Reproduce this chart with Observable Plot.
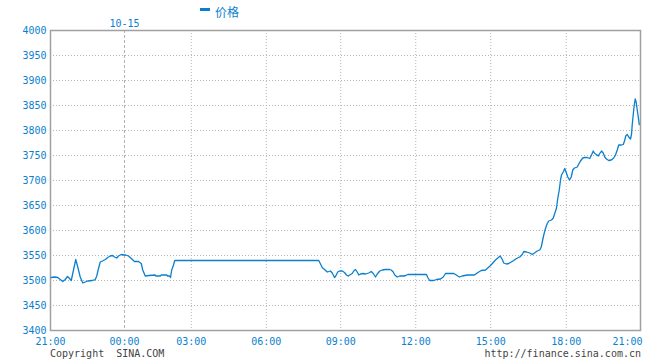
<!DOCTYPE html>
<html>
<head>
<meta charset="utf-8">
<script src="https://cdn.jsdelivr.net/npm/d3@7"></script>
<script src="https://cdn.jsdelivr.net/npm/@observablehq/plot@0.6"></script>
<style>
  html, body { margin: 0; padding: 0; background: #fff; }
  #wrap { position: relative; width: 660px; height: 360px; overflow: hidden; }
  #chart { position: absolute; left: 0; top: 0; }
  .ov { position: absolute; white-space: pre; line-height: 1; }
</style>
</head>
<body>
<div id="wrap">
  <div id="chart"></div>
  <div class="ov" style="left:200px;top:8px;width:10px;height:3px;background:#0a7fcf;"></div>
  <div class="ov" id="legend" style="left:215px;top:3px;font:12px 'Noto Sans CJK SC', sans-serif;color:#0a7fcf;"></div>
  <div class="ov" id="copy" style="left:50px;top:348px;font:10px 'DejaVu Sans Mono', monospace;color:#444;"></div>
  <div class="ov" id="url" style="right:19px;top:348px;font:10px 'DejaVu Sans Mono', monospace;color:#444;"></div>
</div>
<script>
// ---- data (position on the chart's time axis, in hours from 21:00) ----
const seriesName = "价格";
const dateLabel = "10-15";
const pos = [
  0.03,0.16,0.29,0.39,0.49,0.59,0.68,0.76,0.83,0.92,1.01,1.09,1.19,1.29,1.39,1.49,1.65,1.79,1.85,1.92,
  1.99,2.08,2.19,2.29,2.39,2.48,2.56,2.65,2.72,2.83,2.92,3.01,3.12,3.23,3.36,3.52,3.63,3.69,3.79,3.95,
  4.19,4.21,4.39,4.43,4.65,4.68,4.76,4.80,4.85,4.92,4.97,
  10.73,10.80,10.87,10.96,11.07,11.20,11.27,11.36,11.41,11.49,11.57,11.67,11.76,11.84,11.91,12.00,
  12.07,12.13,12.20,12.27,12.33,12.40,12.51,12.60,12.73,12.83,12.91,13.00,13.07,13.17,13.27,13.40,13.57,13.63,
  13.71,13.77,13.87,13.97,14.13,14.21,14.29,15.04,15.09,15.17,15.33,15.44,15.60,15.71,15.80,16.00,
  16.13,16.20,16.29,16.36,16.47,16.67,16.96,17.04,17.13,17.23,17.40,17.49,17.60,17.71,17.80,17.89,17.99,
  18.07,18.13,18.24,18.33,18.43,18.53,18.64,18.77,18.87,18.93,19.04,19.17,19.27,19.36,19.47,19.57,
  19.63,19.67,19.73,19.80,19.87,19.93,20.04,20.11,20.17,20.24,20.29,20.35,20.40,20.44,20.51,20.57,20.63,
  20.69,20.76,20.83,20.89,20.96,21.07,21.13,21.20,21.29,21.37,21.47,21.57,21.64,21.71,21.77,21.84,21.91,
  21.97,22.04,22.11,22.17,22.24,22.33,22.43,22.53,22.60,22.67,22.73,22.84,22.91,22.96,23.01,23.07,23.13,
  23.20,23.24,23.27,23.31,23.35,23.39,23.43,23.47,23.51,23.55
];
const price = [
  3506,3507,3506,3502,3498,3502,3508,3504,3500,3521,3542,3527,3507,3495,3497,3499,3500,3502,3509,3524,
  3537,3539,3542,3546,3549,3550,3547,3545,3549,3552,3551,3551,3549,3544,3538,3538,3534,3521,3509,3510,
  3511,3509,3509,3511,3511,3509,3509,3506,3521,3531,3540,
  3540,3533,3526,3522,3517,3519,3515,3506,3509,3517,3519,3519,3516,3511,3509,3512,
  3514,3519,3522,3517,3511,3513,3514,3513,3515,3518,3514,3507,3513,3519,3521,3522,3522,3521,
  3517,3511,3507,3509,3509,3510,3512,3512,3506,3500,3500,3502,3503,3507,3514,3514,
  3514,3512,3509,3507,3509,3511,3511,3514,3517,3520,3521,3525,3530,3536,3541,3545,3549,
  3542,3535,3533,3534,3537,3540,3544,3547,3552,3558,3557,3555,3552,3555,3559,3561,
  3567,3577,3591,3604,3614,3619,3621,3625,3634,3645,3664,3681,3701,3711,3717,3724,3716,
  3707,3701,3707,3721,3725,3727,3733,3739,3745,3746,3746,3744,3751,3759,3754,3752,3749,
  3754,3759,3755,3747,3743,3740,3741,3745,3751,3761,3771,3771,3772,3779,3789,3792,3787,
  3783,3792,3812,3832,3851,3863,3856,3841,3827,3812
];
const xTickPos = [0, 2.96, 5.63, 8.63, 11.61, 14.61, 17.61, 20.63, 23.6];
const xTickLabels = ["21:00","00:00","03:00","06:00","09:00","12:00","15:00","18:00","21:00"];
const yTicks = [3400,3450,3500,3550,3600,3650,3700,3750,3800,3850,3900,3950,4000];
const copyrightText = "Copyright  SINA.COM";
const urlText = "http://finance.sina.com.cn";

// ---- build ----
const data = pos.map((p, i) => ({pos: p, price: price[i]}));
const blue = "#0a7fcf";
const gridGray = "#b4b4b4";
const labelOf = new Map(xTickPos.map((p, i) => [p, xTickLabels[i]]));
const dateTick = xTickPos[1];
const lastTick = xTickPos[xTickPos.length - 1];

const chart = Plot.plot({
  width: 660,
  height: 360,
  marginLeft: 50,
  marginRight: 20,
  marginTop: 30,
  marginBottom: 30,
  x: {domain: [0, 23.6]},
  y: {domain: [3400, 4000]},
  style: {fontFamily: "'DejaVu Sans Mono', monospace", fontSize: "10px", color: blue, background: "#fff", overflow: "visible"},
  marks: [
    Plot.gridY(yTicks.slice(1, -1), {stroke: gridGray, strokeOpacity: 1, strokeDasharray: "1,2"}),
    Plot.gridX(xTickPos.filter(p => p !== dateTick && p !== 0 && p !== lastTick), {stroke: gridGray, strokeOpacity: 1, strokeDasharray: "1,2"}),
    Plot.gridX([dateTick], {stroke: gridGray, strokeOpacity: 1, strokeDasharray: "3,2"}),
    Plot.frame({stroke: "#a0a0a0", strokeWidth: 1.5}),
    Plot.axisY(yTicks, {tickSize: 0, tickPadding: 4, fill: blue, label: null, tickFormat: d => String(d)}),
    Plot.axisX(xTickPos.slice(0, -1), {tickSize: 0, tickPadding: 7, fill: blue, label: null, tickFormat: d => labelOf.get(d)}),
    Plot.axisX([lastTick], {tickSize: 0, tickPadding: 7, fill: blue, label: null, textAnchor: "end", dx: 2, tickFormat: d => labelOf.get(d)}),
    Plot.text([dateTick], {x: d => d, frameAnchor: "top", dy: -11, text: () => dateLabel, fill: blue, fontSize: 10}),
    Plot.line(data, {x: "pos", y: "price", stroke: blue, strokeWidth: 1.3})
  ]
});
document.getElementById("chart").appendChild(chart);
document.getElementById("legend").textContent = seriesName;
document.getElementById("copy").textContent = copyrightText;
document.getElementById("url").textContent = urlText;
</script>
</body>
</html>
